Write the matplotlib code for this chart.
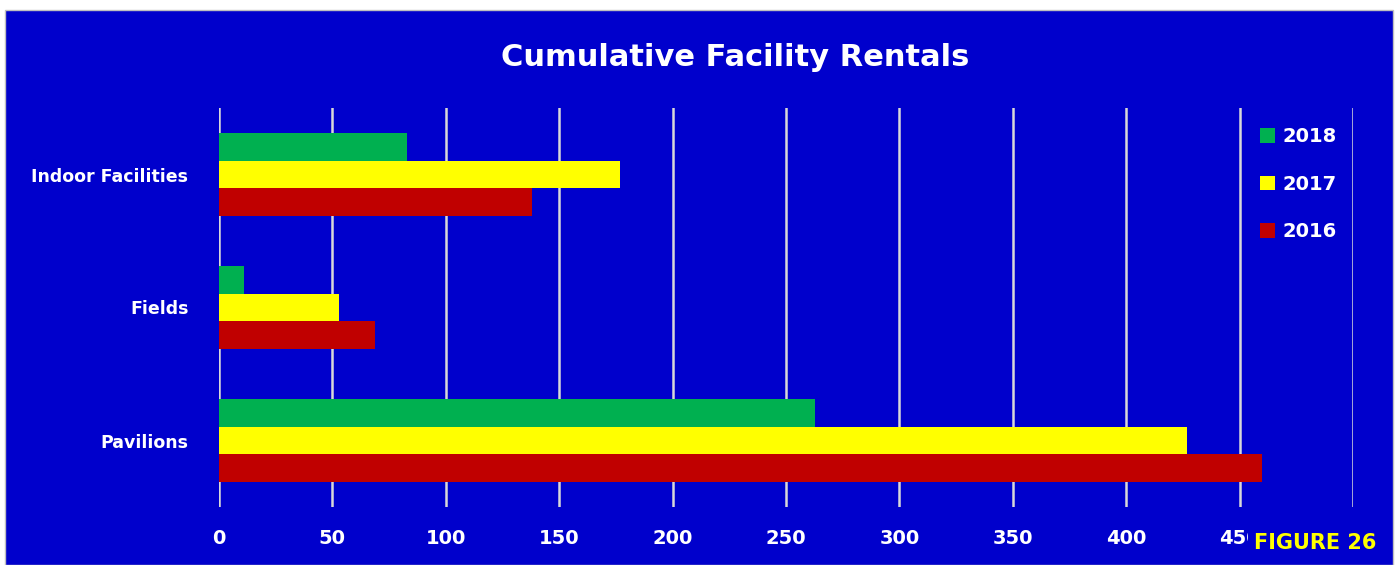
import matplotlib
matplotlib.use("Agg")
import matplotlib.pyplot as plt
import numpy as np
from matplotlib.patches import Rectangle

categories = ["Pavilions", "Fields", "Indoor Facilities"]
years = ["2018", "2017", "2016"]
values_2018 = [263, 11, 83]
values_2017 = [427, 53, 177]
values_2016 = [460, 69, 138]
colors = {"2018": "#00B050", "2017": "#FFFF00", "2016": "#C00000"}
xticks = [0, 50, 100, 150, 200, 250, 300, 350, 400, 450, 500]
xticklabels = ["0", "50", "100", "150", "200", "250", "300", "350", "400", "450", ""]

BLUE = "#0000CC"
W, H = 1398, 565
fig = plt.figure(figsize=(W / 100, H / 100), dpi=100, facecolor="white")
fig.patches.append(Rectangle((5 / W, 0), (W - 10) / W, 1 - 10 / H,
                             transform=fig.transFigure, facecolor=BLUE,
                             edgecolor="#BFBFBF", lw=1, zorder=-5))

ax = fig.add_axes([219 / W, 1 - 507 / H, (1353 - 219) / W, (507 - 108) / H])
ax.set_facecolor("none")

y = np.arange(len(categories))
h = 0.207
series = {"2018": values_2018, "2017": values_2017, "2016": values_2016}
offsets = {"2018": h, "2017": 0, "2016": -h}
for yr in years:
    ax.barh(y + offsets[yr], series[yr], height=h, color=colors[yr],
            label=yr, zorder=3)

ax.set_xlim(0, 500)
ax.set_ylim(-0.5, 2.5)
ax.set_xticks(xticks)
ax.set_xticklabels(xticklabels)
ax.set_yticks(y)
ax.set_yticklabels(categories)
ax.grid(axis="x", color="#D9D9D9", lw=1.8, zorder=1)
ax.grid(axis="y", visible=False)
for s in ax.spines.values():
    s.set_visible(False)
ax.tick_params(axis="both", length=0, colors="white")
ax.tick_params(axis="x", pad=16)
ax.tick_params(axis="y", pad=22)
for lab in ax.get_xticklabels():
    lab.set_fontsize(14)
    lab.set_fontweight("bold")
    lab.set_color("white")
for lab in ax.get_yticklabels():
    lab.set_fontsize(12.5)
    lab.set_fontweight("bold")
    lab.set_color("white")
    lab.set_va("center_baseline")

fig.text(735 / W, 1 - 58 / H, "Cumulative Facility Rentals", ha="center",
         va="center", color="white", fontsize=22, fontweight="bold")

leg = ax.legend(loc="upper left", bbox_to_anchor=(1242 / W, 1 - 110 / H),
                bbox_transform=fig.transFigure, frameon=False,
                handlelength=0.8, handleheight=0.8, handletextpad=0.4,
                labelspacing=1.45, prop={"size": 14, "weight": "bold"})
for t in leg.get_texts():
    t.set_color("white")

fig.text(1315 / W, 1 - 543 / H, "FIGURE 26", ha="center", va="center",
         color="#FFFF00", fontsize=15, fontweight="bold", zorder=10,
         bbox=dict(facecolor=BLUE, edgecolor="none", pad=4))

fig.savefig("out.png", dpi=100, facecolor="white")
